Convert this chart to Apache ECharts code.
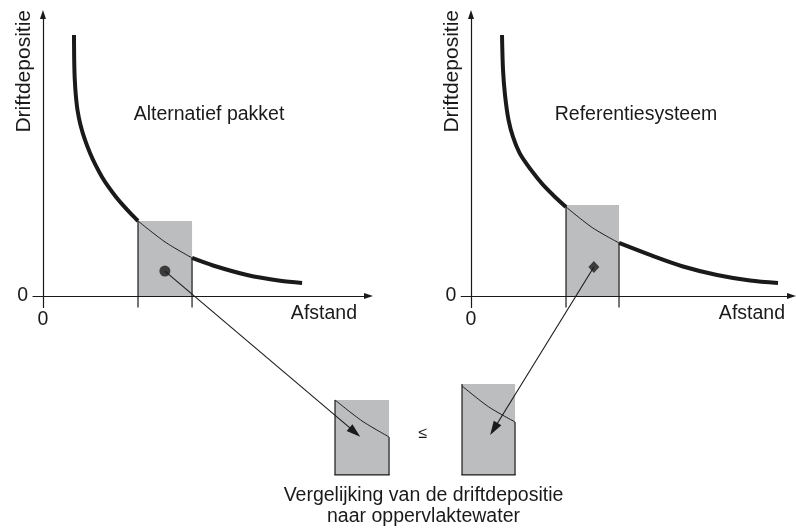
<!DOCTYPE html>
<html>
<head>
<meta charset="utf-8">
<script src="https://cdn.jsdelivr.net/npm/echarts@6/dist/echarts.min.js"></script>
<style>html,body{margin:0;padding:0;background:#fff;}#c{width:796px;height:529px;}</style>
</head>
<body>
<div id="c"></div>
<script>
// ---- data (diagram units) ----
const yTitle = 'Driftdepositie';
const xTitle = 'Afstand';
const panelTitles = ['Alternatief pakket', 'Referentiesysteem'];
const bottomText = 'Vergelijking van de driftdepositie\nnaar oppervlaktewater';
const compareSign = '≤';
const zeroLabel = 0;
// curves [afstand, depositie]
const leftCurve = [[0.934,9.126],[0.937,8.601],[0.943,8.077],[0.958,7.552],[0.988,7.028],[1.039,6.503],[1.130,5.979],[1.265,5.455],[1.416,5.000],[1.581,4.580],[1.777,4.161],[1.973,3.811],[2.199,3.462],[2.455,3.112],[2.651,2.867],[2.861,2.622],[3.675,1.888],[4.488,1.329],[5.120,1.066],[6.145,0.734],[7.139,0.531],[7.801,0.455]];
const rightCurve = [[0.954,9.126],[0.985,7.902],[1.046,7.028],[1.154,6.154],[1.292,5.559],[1.492,5.000],[1.754,4.545],[2.015,4.161],[2.277,3.811],[2.585,3.462],[2.923,3.112],[3.738,2.385],[4.554,1.853],[5.508,1.434],[6.523,1.031],[7.569,0.734],[8.585,0.542],[9.446,0.455]];
// zone: [from, to, top, curve value at 'to']
const leftZone = [2.861, 4.488, 2.622, 1.329];
const rightZone = [2.923, 4.554, 3.18, 1.853];
const leftMarker = [3.67, 0.87];
const rightMarker = [3.78, 1.01];
const leftArrowTip = [3.62, 1.34];
const rightArrowTip = [3.79, 1.40];

const INK = '#1a1a1a';
const GRAY = '#bcbdbf';
const FONT = '"Liberation Sans", Arial, sans-serif';
const FS = 19.5;

const chart = echarts.init(document.getElementById('c'), null, {renderer: 'canvas'});

const grids = [
  {left: 33, top: 14.5, width: 335.5, height: 292.9},
  {left: 461.25, top: 14.5, width: 330.25, height: 292.9},
  {left: 33 + 197, top: 14.5 + 179, width: 335.5, height: 292.9},
  {left: 461.25 - 104, top: 14.5 + 179, width: 330.25, height: 292.9}
];
const xMax = [9.80, 9.86, 9.80, 9.86];

function xAxisFor(i, show) {
  return {
    type: 'value', gridIndex: i, min: -0.3, max: xMax[i], show: show,
    splitLine: {show: false}, axisTick: {show: false},
    axisLine: {show: true, onZero: true, symbol: ['none', 'triangle'], symbolSize: [6, 9], lineStyle: {color: INK, width: 1.2}},
    axisLabel: {show: true, margin: 2, color: INK, fontFamily: FONT, fontSize: FS, formatter: v => (Math.abs(v - zeroLabel) < 1e-9 ? String(zeroLabel) : '')},
    name: show ? xTitle : '', nameLocation: 'end', nameGap: i === 0 ? -11.5 : -6.5,
    nameTextStyle: {color: INK, fontFamily: FONT, fontSize: FS, align: 'right', verticalAlign: 'top', padding: [8, 0, 0, 0]}
  };
}
function yAxisFor(i, show) {
  return {
    type: 'value', gridIndex: i, min: -0.4, max: 9.84, show: show,
    splitLine: {show: false}, axisTick: {show: false},
    axisLine: {show: true, onZero: true, symbol: ['none', 'triangle'], symbolSize: [6, 9], lineStyle: {color: INK, width: 1.2}},
    axisLabel: {show: true, margin: 5, color: INK, fontFamily: FONT, fontSize: FS, formatter: v => (Math.abs(v - zeroLabel) < 1e-9 ? String(zeroLabel) : '')},
    name: show ? yTitle : '', nameLocation: 'end', nameGap: 4.5, nameRotate: 90,
    nameTextStyle: {color: INK, fontFamily: FONT, fontSize: 21, align: 'right', verticalAlign: 'bottom', padding: [0, 0, 8, 0]}
  };
}

function zoneRender(isBox) {
  return function (params, api) {
    const x0 = api.value(0), x1 = api.value(1), top = api.value(2), yr = api.value(3);
    const yb = isBox ? 0 : -0.4;
    const bl = api.coord([x0, 0]), tr = api.coord([x1, top]);
    const lb = api.coord([x0, yb]), lt = api.coord([x0, top]);
    const rb = api.coord([x1, yb]), rt = api.coord([x1, yr]);
    const children = [
      {type: 'rect', shape: {x: bl[0], y: tr[1], width: tr[0] - bl[0], height: bl[1] - tr[1]}, style: {fill: GRAY}},
      {type: 'line', shape: {x1: lb[0], y1: lb[1], x2: lt[0], y2: lt[1]}, style: {stroke: INK, lineWidth: 1.2}},
      {type: 'line', shape: {x1: rb[0], y1: rb[1], x2: rt[0], y2: rt[1]}, style: {stroke: INK, lineWidth: 1.2}}
    ];
    if (isBox) {
      const p0 = api.coord([x0, 0]), p1 = api.coord([x1, 0]);
      children.push({type: 'line', shape: {x1: p0[0] - 0.6, y1: p0[1], x2: p1[0] + 0.6, y2: p1[1]}, style: {stroke: INK, lineWidth: 1.2}});
    }
    return {type: 'group', children: children};
  };
}

function panelSeries(curve, zone, marker, markerSymbol, gPanel, gBox) {
  const before = curve.filter(p => p[0] <= zone[0]);
  const inside = curve.filter(p => p[0] >= zone[0] && p[0] <= zone[1]);
  const after = curve.filter(p => p[0] >= zone[1]);
  const lineBase = {type: 'line', smooth: 0.3, showSymbol: false, symbol: 'none', silent: true, animation: false};
  return [
    {type: 'custom', xAxisIndex: gPanel, yAxisIndex: gPanel, renderItem: zoneRender(false), data: [zone], clip: false, animation: false, z: 1},
    Object.assign({}, lineBase, {xAxisIndex: gPanel, yAxisIndex: gPanel, data: before, lineStyle: {color: INK, width: 4}, z: 3}),
    Object.assign({}, lineBase, {xAxisIndex: gPanel, yAxisIndex: gPanel, data: after, lineStyle: {color: INK, width: 4}, z: 3}),
    Object.assign({}, lineBase, {xAxisIndex: gPanel, yAxisIndex: gPanel, data: inside, lineStyle: {color: INK, width: 1}, z: 3}),
    {type: 'scatter', xAxisIndex: gPanel, yAxisIndex: gPanel, data: [marker], symbol: markerSymbol, symbolSize: markerSymbol === 'circle' ? 11 : [11, 12], itemStyle: {color: INK}, z: 4, animation: false, silent: true},
    {type: 'custom', xAxisIndex: gBox, yAxisIndex: gBox, renderItem: zoneRender(true), data: [zone], clip: false, animation: false, z: 1},
    Object.assign({}, lineBase, {xAxisIndex: gBox, yAxisIndex: gBox, data: inside, lineStyle: {color: INK, width: 1}, z: 3})
  ];
}

const textStyle = (extra) => Object.assign({fill: INK, font: FS + 'px ' + FONT}, extra);

const option = {
  backgroundColor: '#fff',
  animation: false,
  grid: grids,
  xAxis: [xAxisFor(0, true), xAxisFor(1, true), xAxisFor(2, false), xAxisFor(3, false)],
  yAxis: [yAxisFor(0, true), yAxisFor(1, true), yAxisFor(2, false), yAxisFor(3, false)],
  series: [].concat(
    panelSeries(leftCurve, leftZone, leftMarker, 'circle', 0, 2),
    panelSeries(rightCurve, rightZone, rightMarker, 'diamond', 1, 3)
  ),
  graphic: [
    {type: 'text', x: 209, y: 104.7, z: 100, style: textStyle({text: panelTitles[0], align: 'center', verticalAlign: 'top'})},
    {type: 'text', x: 636, y: 104.7, z: 100, style: textStyle({text: panelTitles[1], align: 'center', verticalAlign: 'top'})},
    {type: 'text', x: 423, y: 434, z: 100, style: textStyle({text: compareSign, font: '16px ' + FONT, align: 'center', verticalAlign: 'middle'})},
    {type: 'text', x: 423.5, y: 485.5, z: 100, style: textStyle({text: bottomText, align: 'center', verticalAlign: 'top', lineHeight: 21})}
  ]
};
chart.setOption(option);

function arrow(p0, p1) {
  const dx = p1[0] - p0[0], dy = p1[1] - p0[1];
  const len = Math.hypot(dx, dy), ux = dx / len, uy = dy / len;
  const L = 14, W = 4.5;
  const b = [p1[0] - ux * L, p1[1] - uy * L];
  return [
    {type: 'line', z: 100, shape: {x1: p0[0], y1: p0[1], x2: b[0] + ux * 2, y2: b[1] + uy * 2}, style: {stroke: INK, lineWidth: 1.1}},
    {type: 'polygon', z: 100, shape: {points: [[p1[0], p1[1]], [b[0] - uy * W, b[1] + ux * W], [b[0] + uy * W, b[1] - ux * W]]}, style: {fill: INK}}
  ];
}
const a0 = chart.convertToPixel({gridIndex: 0}, leftMarker);
const a1 = chart.convertToPixel({gridIndex: 2}, leftArrowTip);
const b0 = chart.convertToPixel({gridIndex: 1}, rightMarker);
const b1 = chart.convertToPixel({gridIndex: 3}, rightArrowTip);
chart.setOption({graphic: option.graphic.concat(arrow(a0, a1), arrow(b0, b1))});
</script>
</body>
</html>
